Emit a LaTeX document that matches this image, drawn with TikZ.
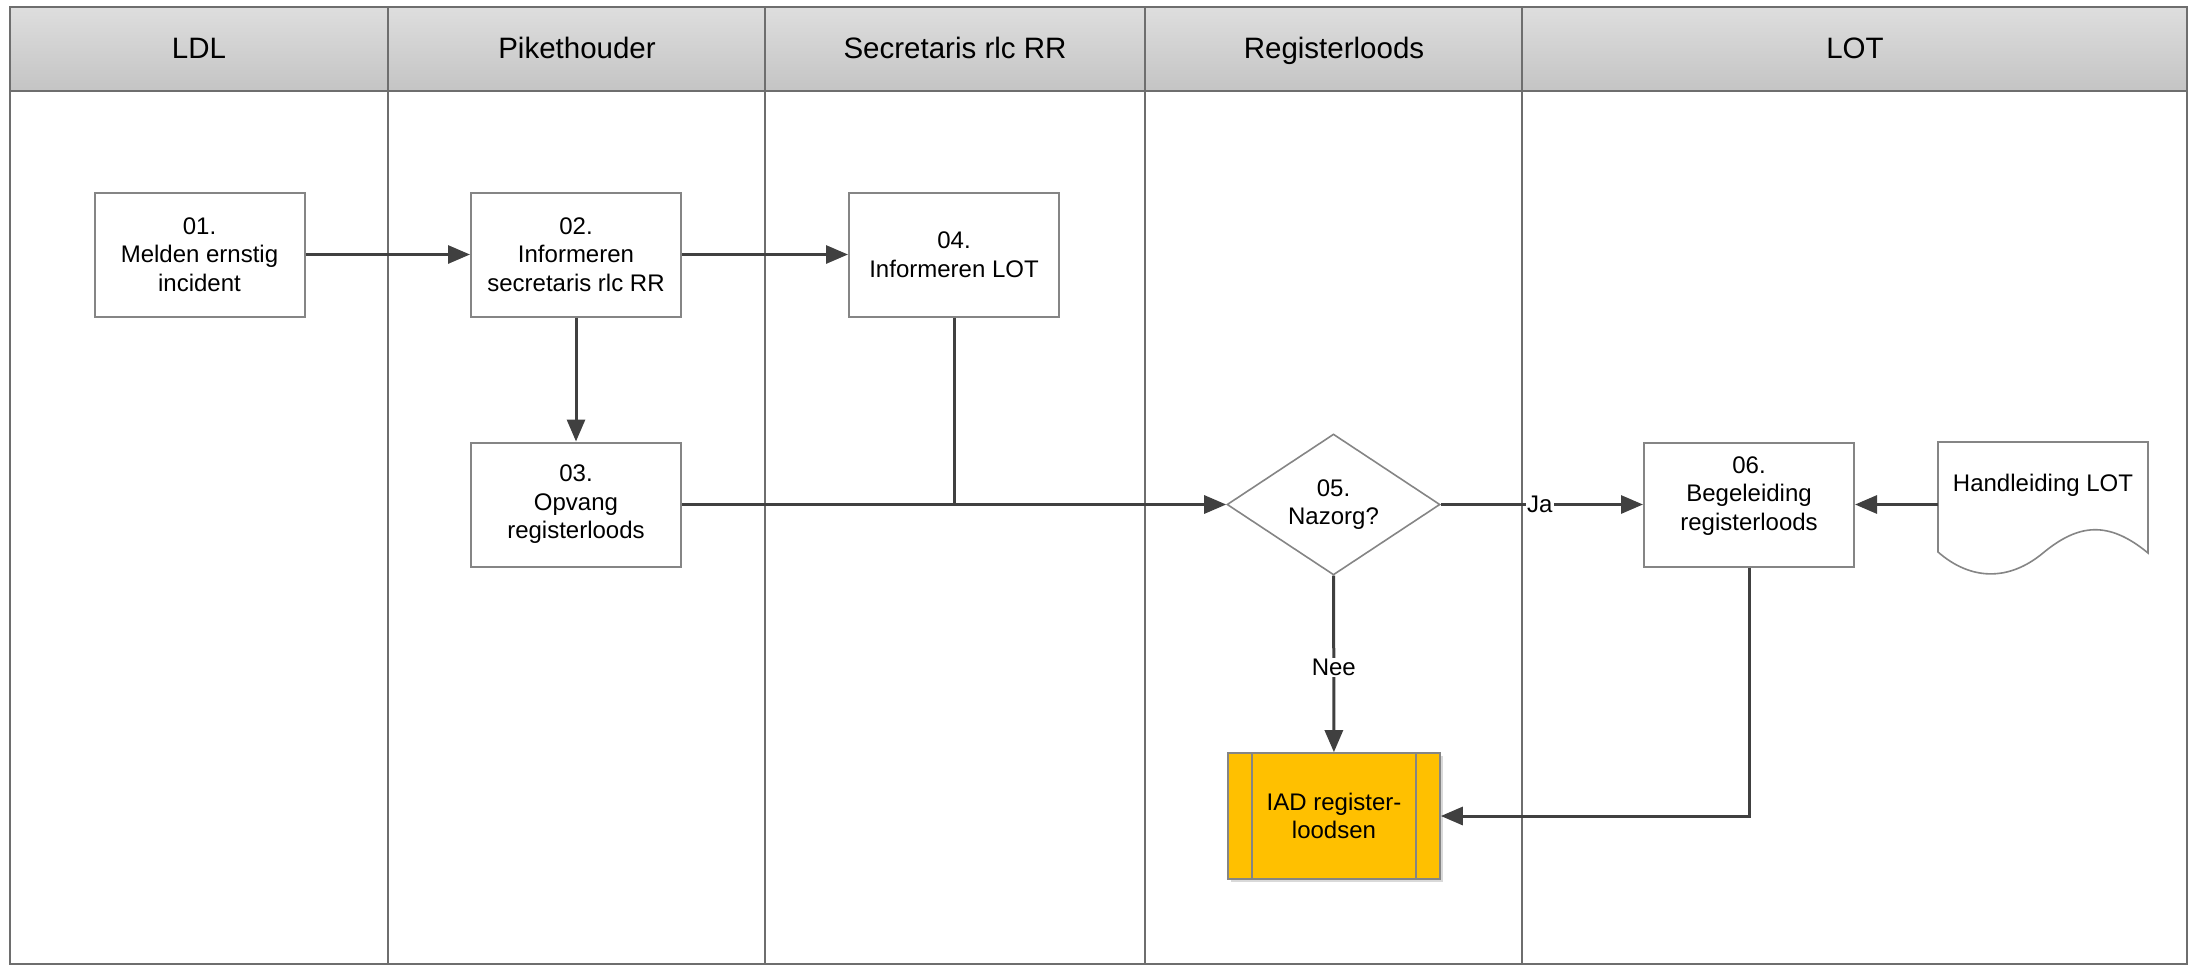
\documentclass[tikz,border=0pt]{standalone}
\usepackage{fontspec}
\setmainfont{Liberation Sans}
\usetikzlibrary{shapes.geometric,arrows.meta,calc}
\definecolor{framegray}{HTML}{6E6E6E}
\definecolor{boxgray}{HTML}{858585}
\definecolor{arrowgray}{HTML}{404040}
\definecolor{headtop}{HTML}{DEDEDE}
\definecolor{headbot}{HTML}{C4C4C4}
\definecolor{iadfill}{HTML}{FFC000}
\tikzset{
  lane/.style={draw=framegray,line width=1.8pt},
  headtext/.style={font=\fontsize{29.5}{34}\selectfont},
  stepbox/.style={draw=boxgray,line width=2pt,fill=white,minimum width=210pt,minimum height=124pt,align=center,inner sep=0pt,font=\fontsize{24}{28.5}\selectfont},
  decision/.style={draw=boxgray,line width=1.6pt,fill=white,shape=diamond,minimum width=213pt,minimum height=140pt,inner sep=0pt,align=center,font=\fontsize{24}{28.5}\selectfont},
  subproc/.style={draw=boxgray,line width=1.6pt,fill=iadfill,minimum width=212pt,minimum height=126pt,align=center,inner sep=0pt,font=\fontsize{24}{28.5}\selectfont},
  flow/.style={draw=arrowgray,line width=3pt,-{Triangle[length=22pt,width=18pt]}},
  plainflow/.style={draw=arrowgray,line width=3pt},
  lbl/.style={fill=white,inner sep=1pt,font=\fontsize{24}{28.5}\selectfont}
}
\begin{document}
\begin{tikzpicture}[x=1pt,y=-1pt]
\useasboundingbox (0,0) rectangle (2194,964);
% header
\shade[top color=headtop,bottom color=headbot] (10,7) rectangle (2187,91);
\draw[lane] (10,7) rectangle (2187,964);
\draw[lane,line width=2.4pt] (10,91) -- (2187,91);
\foreach \x in {388,765,1145,1522} \draw[lane] (\x,7) -- (\x,964);
\node[headtext,anchor=base] (hLDL) at (199,58) {LDL};
\node[headtext,anchor=base] (hPik) at (577,58) {Pikethouder};
\node[headtext,anchor=base] (hSec) at (955,58) {Secretaris rlc RR};
\node[headtext,anchor=base] (hReg) at (1334,58) {Registerloods};
\node[headtext,anchor=base] (hLOT) at (1855,58) {LOT};
% nodes
\node[stepbox] (n01) at (199.5,254.5) {01.\\Melden ernstig\\incident};
\node[stepbox] (n02) at (576,254.5) {02.\\Informeren\\secretaris rlc RR};
\node[stepbox] (n04) at (954,254.5) {04.\\Informeren LOT};
\node[stepbox] (n03) at (576,504.5) {03.\\Opvang\\registerloods};
\node[decision] (n05) at (1333.5,504.5) {05.\\Nazorg?};
\node[stepbox] (n06) at (1749,504.5) {06.\\Begeleiding\\registerloods\\[-6pt]};
% document shape
\draw[draw=boxgray,line width=1.6pt,fill=white] (1938,442) -- (2148,442) -- (2148,553)
  .. controls (2108,520) and (2078,524) .. (2043,553)
  .. controls (2008,582) and (1970,580) .. (1938,552) -- cycle;
\node[font=\fontsize{24}{28.5}\selectfont,inner sep=0pt,anchor=base] (doc) at (2043,491) {Handleiding LOT};
\coordinate (docR) at (1938,504.5);
% IAD subprocess
\fill[gray!30] (1231,756) rectangle (1443,882);
\node[subproc] (iad) at (1334,816) {IAD register-\\loodsen};
\draw[boxgray,line width=1.6pt] ($(iad.north west)+(25,0)$) -- ($(iad.south west)+(25,0)$);
\draw[boxgray,line width=1.6pt] ($(iad.north east)+(-25,0)$) -- ($(iad.south east)+(-25,0)$);
% connectors
\draw[flow] (n01) -- (n02);
\draw[flow] (n02) -- (n04);
\draw[flow] (n02) -- (n03);
\coordinate (join) at (n04 |- n03);
\draw[plainflow] (n04) -- (join);
\draw[flow] (n03) -- (n05);
\draw[flow] (n05) -- node[lbl,pos=0.49] {Ja} (n06);
\draw[flow] (docR) -- (n06);
\draw[flow] (n05) -- node[lbl,pos=0.52] {Nee} (iad);
\draw[flow] (n06.south) |- (iad.east);
\end{tikzpicture}
\end{document}
